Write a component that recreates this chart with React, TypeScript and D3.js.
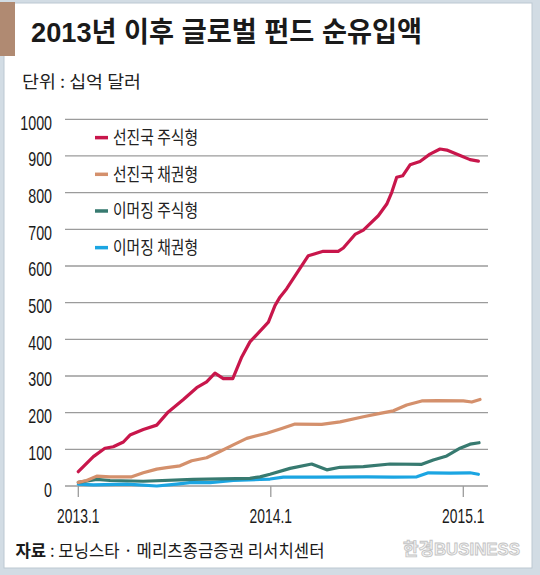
import React from 'react';
import * as d3 from 'd3';

const titleText = '2013년 이후 글로벌 펀드 순유입액';
const unitText = '단위 : 십억 달러';
const sourceLabel = '자료';
const sourceText = ' : 모닝스타 · 메리츠종금증권 리서치센터';
const watermark = '한경BUSINESS';

const yTicks = [0, 100, 200, 300, 400, 500, 600, 700, 800, 900, 1000];
const xTickMonths = [0, 12, 24];
const xTickLabels = ['2013.1', '2014.1', '2015.1'];

const seriesNames = ['선진국 주식형', '선진국 채권형', '이머징 주식형', '이머징 채권형'];
const seriesColors = ['#c8164b', '#d4906c', '#377a70', '#1ba5e2'];

// months since 2013.1
const devEquityMonths = [0, 0.94, 1.66, 2.18, 2.81, 3.22, 4.05, 4.89, 5.61, 6.55, 7.38, 8.0, 8.52, 9.04, 9.63, 10.19, 10.7, 11.85, 12.26, 12.57, 12.99, 14.34, 15.27, 16.2, 16.52, 17.25, 17.77, 18.7, 19.23, 19.54, 19.85, 20.22, 20.68, 21.3, 21.92, 22.55, 22.97, 23.8, 24.42, 24.94];
const devEquityValues = [39, 80, 103, 107, 120, 139, 154, 166, 202, 236, 268, 284, 308, 293, 293, 352, 393, 447, 492, 515, 538, 628, 640, 640, 649, 686, 698, 737, 769, 801, 842, 846, 876, 885, 905, 919, 916, 901, 890, 886];

const devBondMonths = [0, 0.52, 1.15, 1.98, 3.33, 4.05, 4.89, 5.51, 6.34, 7.07, 8.0, 8.83, 9.66, 10.5, 11.75, 12.68, 13.51, 15.17, 16.32, 17.77, 18.81, 19.64, 20.47, 21.41, 22.34, 24.0, 24.53, 25.04];
const devBondValues = [10, 15, 27, 25, 25, 36, 46, 50, 55, 69, 77, 94, 112, 130, 144, 157, 169, 168, 175, 189, 198, 205, 221, 232, 233, 232, 229, 236];

const emEquityMonths = [0, 1.15, 1.98, 4.05, 7.17, 10.7, 11.33, 11.95, 13.2, 14.55, 15.49, 16.32, 17.77, 19.43, 21.41, 22.13, 22.97, 23.8, 24.42, 24.98];
const emEquityValues = [10, 18, 15, 13, 18, 21, 25, 32, 48, 60, 44, 51, 53, 60, 59, 71, 82, 103, 114, 118];

const emBondMonths = [0, 0.94, 3.04, 4.89, 6.13, 6.95, 8.21, 9.66, 11.33, 11.95, 12.78, 14.86, 17.98, 19.64, 21.1, 21.82, 23.17, 24.42, 24.94];
const emBondValues = [5, 3, 5, 0, 5, 9, 9, 15, 18, 19, 24, 24, 25, 24, 25, 36, 35, 36, 32];

const seriesMonths = [devEquityMonths, devBondMonths, emEquityMonths, emBondMonths];
const seriesValues = [devEquityValues, devBondValues, emEquityValues, emBondValues];

const W = 540;
const H = 575;
const x = d3.scaleLinear().domain([0, 24]).range([78.3, 463.3]);
const y = d3.scaleLinear().domain([0, 1000]).range([486, 119.3]);
const gridX0 = 65;
const gridX1 = 488;

const KR = '"Noto Sans CJK KR", "Noto Sans", sans-serif';
const NUM = '"Liberation Sans", Arial, "Noto Sans CJK KR", sans-serif';

export default function App() {
  const line = d3
    .line<[number, number]>()
    .x((d) => x(d[0]))
    .y((d) => y(d[1]))
    .curve(d3.curveLinear);

  const order = [3, 2, 1, 0];

  return (
    <svg
      width={W}
      height={H}
      viewBox={`0 0 ${W} ${H}`}
      style={{ position: 'absolute', left: 0, top: 0, display: 'block' }}
    >
      <rect x={0} y={0} width={W} height={H} fill="#d2dce4" />
      <rect x={4} y={3} width={528} height={565} fill="#ffffff" stroke="#bcc8d1" strokeWidth={1} />
      <rect x={0} y={2} width={15} height={54} fill="#b08a72" />

      <text
        x={31}
        y={42}
        fontFamily={NUM}
        fontWeight="bold"
        fontSize={28}
        fill="#1a1a1a"
        textLength={391}
        lengthAdjust="spacingAndGlyphs"
      >
        {titleText}
      </text>

      <text x={22} y={88} fontFamily={KR} fontSize={17} fill="#222" textLength={119} lengthAdjust="spacingAndGlyphs">
        {unitText}
      </text>

      {yTicks.map((t) => (
        <line key={'g' + t} x1={gridX0} x2={gridX1} y1={y(t)} y2={y(t)} stroke="#9b9b9b" strokeWidth={1.3} />
      ))}
      {yTicks.map((t) => (
        <text
          key={'yl' + t}
          transform={`translate(52,${y(t) + 10.5}) scale(0.68,1)`}
          textAnchor="end"
          fontFamily={NUM}
          fontSize={21}
          fill="#1a1a1a"
        >
          {t}
        </text>
      ))}

      {xTickMonths.map((m, i) => (
        <g key={'xt' + m}>
          <line x1={x(m)} x2={x(m)} y1={y(0)} y2={y(0) + 11} stroke="#9b9b9b" strokeWidth={1.3} />
          <text
            transform={`translate(${x(m)},523) scale(0.66,1)`}
            textAnchor="middle"
            fontFamily={NUM}
            fontSize={21}
            fill="#1a1a1a"
          >
            {xTickLabels[i]}
          </text>
        </g>
      ))}

      {order.map((i) => {
        const pts: [number, number][] = seriesMonths[i].map((m, k) => [m, seriesValues[i][k]]);
        return (
          <path
            key={'s' + i}
            d={line(pts) || ''}
            fill="none"
            stroke={seriesColors[i]}
            strokeWidth={3.2}
            strokeLinejoin="round"
            strokeLinecap="round"
          />
        );
      })}

      {seriesNames.map((name, i) => {
        const ly = y(950 - i * 100);
        return (
          <g key={'lg' + i}>
            <line x1={95} x2={108} y1={ly} y2={ly} stroke={seriesColors[i]} strokeWidth={3.5} />
            <text
              x={113}
              y={ly + 6.5}
              fontFamily={KR}
              fontSize={18}
              fill="#222"
              textLength={85}
              lengthAdjust="spacingAndGlyphs"
            >
              {name}
            </text>
          </g>
        );
      })}

      <text x={15.5} y={557} fontFamily={KR} fontSize={17} fill="#1a1a1a" textLength={309} lengthAdjust="spacingAndGlyphs">
        <tspan fontWeight="bold">{sourceLabel}</tspan>
        {sourceText}
      </text>

      <text
        x={403}
        y={555}
        fontFamily={NUM}
        fontWeight="bold"
        fontSize={17}
        fill="#f4f4f4"
        stroke="#c4c4c4"
        strokeWidth={0.9}
        textLength={117}
        lengthAdjust="spacingAndGlyphs"
      >
        {watermark}
      </text>
    </svg>
  );
}
